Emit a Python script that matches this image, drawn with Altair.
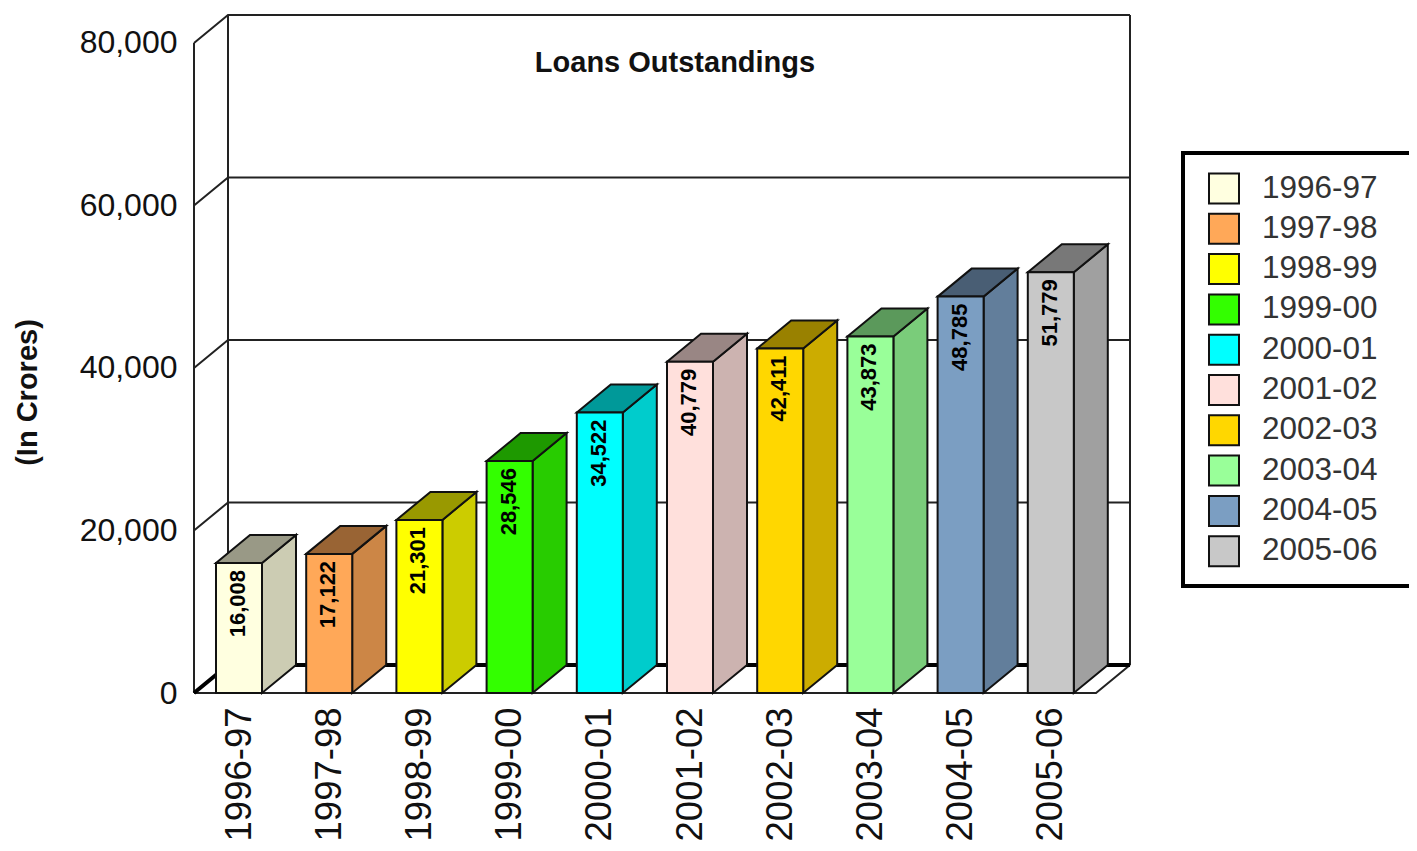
import json
import altair as alt
import pandas as pd

years = ["1996-97", "1997-98", "1998-99", "1999-00", "2000-01",
         "2001-02", "2002-03", "2003-04", "2004-05", "2005-06"]
loans = [16008, 17122, 21301, 28546, 34522, 40779, 42411, 43873, 48785, 51779]
front_colors = ["#FFFFE0", "#FFA858", "#FFFF00", "#33FF00", "#00FFFF",
                "#FFE0DC", "#FFD700", "#99FF99", "#7B9EC2", "#C8C8C8"]
y_ticks = [0, 20000, 40000, 60000, 80000]

FONT = "Liberation Sans"
PX_PER_SLOT = 90.2
DEPTH_X = 34 / PX_PER_SLOT
DEPTH_Y = 3446
BAR_W = 46 / PX_PER_SLOT
BAR_PAD = 22 / PX_PER_SLOT
N = len(years)
X_MAX = N + DEPTH_X
Y_MAX = 80000 + DEPTH_Y


def shade(hex_color, f):
    r, g, b = (int(hex_color[i:i + 2], 16) for i in (1, 3, 5))
    return "#%02x%02x%02x" % (int(r * f), int(g * f), int(b * f))


front, side, top = [], [], []
for i, (yr, v, c) in enumerate(zip(years, loans, front_colors)):
    l = i + BAR_PAD
    r = l + BAR_W
    front.append(dict(year=yr, value=v, l=l, r=r, mid=(l + r) / 2, base=0))
    side += [
        dict(year=yr, x=r, y=v, y2=0, fill=shade(c, 0.8)),
        dict(year=yr, x=r + DEPTH_X, y=v + DEPTH_Y, y2=DEPTH_Y, fill=shade(c, 0.8)),
    ]
    top += [
        dict(year=yr, x=l, y=v, y2=v, fill=shade(c, 0.6)),
        dict(year=yr, x=l + DEPTH_X, y=v + DEPTH_Y, y2=v, fill=shade(c, 0.6)),
        dict(year=yr, x=r, y=v + DEPTH_Y, y2=v, fill=shade(c, 0.6)),
        dict(year=yr, x=r + DEPTH_X, y=v + DEPTH_Y, y2=v + DEPTH_Y, fill=shade(c, 0.6)),
    ]

# Walls and floor, expressed in the chart's own units
wall = []
for t in y_ticks:
    wall += [
        dict(g=f"grid{t}", o=0, x=0, y=t),
        dict(g=f"grid{t}", o=1, x=DEPTH_X, y=t + DEPTH_Y),
        dict(g=f"grid{t}", o=2, x=X_MAX, y=t + DEPTH_Y),
    ]
wall += [
    dict(g="left", o=0, x=0, y=0), dict(g="left", o=1, x=0, y=80000),
    dict(g="back", o=0, x=DEPTH_X, y=DEPTH_Y), dict(g="back", o=1, x=DEPTH_X, y=Y_MAX),
    dict(g="right", o=0, x=X_MAX, y=DEPTH_Y), dict(g="right", o=1, x=X_MAX, y=Y_MAX),
    dict(g="floor", o=0, x=0, y=0), dict(g="floor", o=1, x=N, y=0),
    dict(g="floor", o=2, x=X_MAX, y=DEPTH_Y),
]
thick = [
    dict(g="a", o=0, x=0, y=0), dict(g="a", o=1, x=DEPTH_X, y=DEPTH_Y),
    dict(g="a", o=2, x=X_MAX, y=DEPTH_Y),
]

x_scale = alt.Scale(domain=[0, X_MAX], nice=False, zero=False)
y_scale = alt.Scale(domain=[0, Y_MAX], nice=False, zero=False)
label_expr = f"{json.dumps(years)}[floor(datum.value)]"
x_axis = alt.Axis(
    title=None, values=[i + 0.5 for i in range(N)], labelExpr=label_expr,
    labelAngle=270, labelAlign="right", labelBaseline="middle",
    labelFontSize=36.5, labelColor="#111111", labelPadding=14, labelOverlap=False,
    labelFlush=False, domain=False, ticks=False, grid=False, labelFont=FONT)
y_axis = alt.Axis(
    title="(In Crores)", values=y_ticks, format=",d", labelFontSize=32,
    labelColor="#111111", labelPadding=17, labelOverlap=False, labelFlush=False,
    domain=False, ticks=False, grid=False, titleFontSize=29, titleFontWeight="bold",
    titleColor="#111111", titleX=-152, titleY=377, labelFont=FONT, titleFont=FONT)
X = lambda f: alt.X(f, scale=x_scale, axis=x_axis)
Y = lambda f: alt.Y(f, scale=y_scale, axis=y_axis, stack=None)

walls = alt.Chart(pd.DataFrame(wall)).mark_line(color="#222222", strokeWidth=2).encode(
    x=X("x:Q"), y=Y("y:Q"), detail="g:N", order="o:Q")
thick_line = alt.Chart(pd.DataFrame(thick)).mark_line(color="black", strokeWidth=4).encode(
    x=X("x:Q"), y=Y("y:Q"), detail="g:N", order="o:Q")

side_df = pd.DataFrame(side)
top_df = pd.DataFrame(top)
side_layer = alt.Chart(side_df).mark_area(stroke="#111111", strokeWidth=2).encode(
    x=X("x:Q"), y=Y("y:Q"), y2="y2:Q", detail="year:N",
    color=alt.Color("fill:N", scale=None))
top_layer = alt.Chart(top_df).mark_area(stroke="#111111", strokeWidth=2).encode(
    x=X("x:Q"), y=Y("y:Q"), y2="y2:Q", detail="year:N",
    color=alt.Color("fill:N", scale=None))

front_df = pd.DataFrame(front)
bars = alt.Chart(front_df).mark_rect(stroke="#111111", strokeWidth=2).encode(
    x=X("l:Q"), x2="r:Q", y=Y("value:Q"), y2="base:Q",
    color=alt.Color("year:N", scale=alt.Scale(domain=years, range=front_colors), legend=alt.Legend(
        title=None, orient="none", legendX=1014, legendY=157.5, symbolType="square",
        symbolSize=900, symbolStrokeColor="#111111", symbolStrokeWidth=2,
        labelFontSize=31.5, labelColor="#333333", labelFont=FONT, labelOffset=22,
        rowPadding=2.3, padding=0)),
)
values = alt.Chart(front_df).mark_text(angle=270, align="right", baseline="middle", dx=-7, dy=-1,
                                       fontSize=22, fontWeight="bold", color="black",
                                       font=FONT).encode(
    x=X("mid:Q"), y=Y("value:Q"), text=alt.Text("value:Q", format=","))

frame = alt.Chart(pd.DataFrame({"f": [0]})).mark_rect(
    fill="white", stroke="black", strokeWidth=4).encode(
    x=alt.value(989), x2=alt.value(1300), y=alt.value(138), y2=alt.value(571))

chart = alt.layer(walls, thick_line, frame, side_layer, top_layer, bars, values).properties(
    width=936, height=678,
    autosize=alt.AutoSizeParams(type="none"),
    padding={"left": 186, "top": 7, "right": 279, "bottom": 150},
    title=alt.TitleParams("Loans Outstandings", anchor="middle", fontSize=29, fontWeight="bold",
                          font=FONT, color="#111111", offset=-67, dx=13),
).configure_view(strokeWidth=0)

chart.save("out.html", embed_options={"renderer": "svg", "actions": False})
